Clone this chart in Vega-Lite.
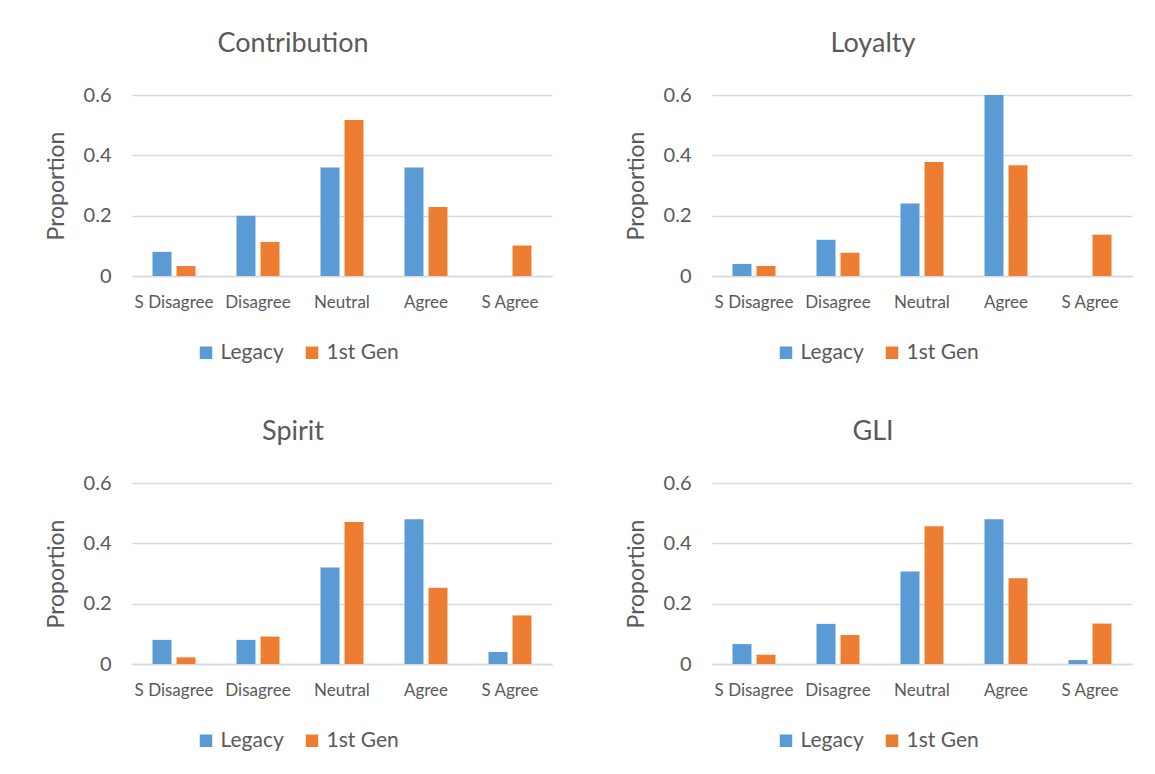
{
  "$schema": "https://vega.github.io/schema/vega-lite/v6.json",
  "background": "white",
  "padding": {"left": 45, "top": 30, "right": 5, "bottom": 5},
  "datasets": {
    "survey": [
      {"panel": "Contribution", "response": "S Disagree", "group": "Legacy", "value": 0.08},
      {"panel": "Contribution", "response": "S Disagree", "group": "1st Gen", "value": 0.033},
      {"panel": "Contribution", "response": "Disagree", "group": "Legacy", "value": 0.2},
      {"panel": "Contribution", "response": "Disagree", "group": "1st Gen", "value": 0.113},
      {"panel": "Contribution", "response": "Neutral", "group": "Legacy", "value": 0.36},
      {"panel": "Contribution", "response": "Neutral", "group": "1st Gen", "value": 0.517},
      {"panel": "Contribution", "response": "Agree", "group": "Legacy", "value": 0.36},
      {"panel": "Contribution", "response": "Agree", "group": "1st Gen", "value": 0.229},
      {"panel": "Contribution", "response": "S Agree", "group": "Legacy", "value": 0},
      {"panel": "Contribution", "response": "S Agree", "group": "1st Gen", "value": 0.101},
      {"panel": "Loyalty", "response": "S Disagree", "group": "Legacy", "value": 0.04},
      {"panel": "Loyalty", "response": "S Disagree", "group": "1st Gen", "value": 0.033},
      {"panel": "Loyalty", "response": "Disagree", "group": "Legacy", "value": 0.12},
      {"panel": "Loyalty", "response": "Disagree", "group": "1st Gen", "value": 0.077},
      {"panel": "Loyalty", "response": "Neutral", "group": "Legacy", "value": 0.24},
      {"panel": "Loyalty", "response": "Neutral", "group": "1st Gen", "value": 0.378},
      {"panel": "Loyalty", "response": "Agree", "group": "Legacy", "value": 0.6},
      {"panel": "Loyalty", "response": "Agree", "group": "1st Gen", "value": 0.367},
      {"panel": "Loyalty", "response": "S Agree", "group": "Legacy", "value": 0},
      {"panel": "Loyalty", "response": "S Agree", "group": "1st Gen", "value": 0.137},
      {"panel": "Spirit", "response": "S Disagree", "group": "Legacy", "value": 0.08},
      {"panel": "Spirit", "response": "S Disagree", "group": "1st Gen", "value": 0.022},
      {"panel": "Spirit", "response": "Disagree", "group": "Legacy", "value": 0.08},
      {"panel": "Spirit", "response": "Disagree", "group": "1st Gen", "value": 0.091},
      {"panel": "Spirit", "response": "Neutral", "group": "Legacy", "value": 0.32},
      {"panel": "Spirit", "response": "Neutral", "group": "1st Gen", "value": 0.471},
      {"panel": "Spirit", "response": "Agree", "group": "Legacy", "value": 0.48},
      {"panel": "Spirit", "response": "Agree", "group": "1st Gen", "value": 0.253},
      {"panel": "Spirit", "response": "S Agree", "group": "Legacy", "value": 0.04},
      {"panel": "Spirit", "response": "S Agree", "group": "1st Gen", "value": 0.161},
      {"panel": "GLI", "response": "S Disagree", "group": "Legacy", "value": 0.066},
      {"panel": "GLI", "response": "S Disagree", "group": "1st Gen", "value": 0.031},
      {"panel": "GLI", "response": "Disagree", "group": "Legacy", "value": 0.133},
      {"panel": "GLI", "response": "Disagree", "group": "1st Gen", "value": 0.096},
      {"panel": "GLI", "response": "Neutral", "group": "Legacy", "value": 0.307},
      {"panel": "GLI", "response": "Neutral", "group": "1st Gen", "value": 0.457},
      {"panel": "GLI", "response": "Agree", "group": "Legacy", "value": 0.48},
      {"panel": "GLI", "response": "Agree", "group": "1st Gen", "value": 0.284},
      {"panel": "GLI", "response": "S Agree", "group": "Legacy", "value": 0.013},
      {"panel": "GLI", "response": "S Agree", "group": "1st Gen", "value": 0.134}
    ]
  },
  "data": {"name": "survey"},
  "columns": 2,
  "spacing": {"row": 207, "column": 160},
  "bounds": "flush",
  "resolve": {"scale": {"color": "independent"}, "legend": {"color": "independent"}},
  "concat": [
    {
      "title": {"text": "Contribution"},
      "width": 420, "height": 181,
      "transform": [{"filter": "datum.panel === 'Contribution'"}],
      "mark": {"type": "bar"},
      "encoding": {
        "x": {"field": "response", "type": "nominal", "sort": ["S Disagree", "Disagree", "Neutral", "Agree", "S Agree"], "scale": {"paddingInner": 0.488, "paddingOuter": 0.244}, "axis": {"title": null}},
        "xOffset": {"field": "group", "type": "nominal", "sort": ["Legacy", "1st Gen"], "scale": {"paddingInner": 0.21, "paddingOuter": 0}},
        "y": {"field": "value", "type": "quantitative", "scale": {"domain": [0, 0.6], "nice": false}, "axis": {"title": "Proportion", "values": [0, 0.2, 0.4, 0.6], "format": "~g"}},
        "color": {"field": "group", "type": "nominal", "scale": {"domain": ["Legacy", "1st Gen"], "range": ["#5B9BD5", "#ED7D31"]}, "legend": {"title": null}}
      }
    },
    {
      "title": {"text": "Loyalty"},
      "width": 420, "height": 181,
      "transform": [{"filter": "datum.panel === 'Loyalty'"}],
      "mark": {"type": "bar"},
      "encoding": {
        "x": {"field": "response", "type": "nominal", "sort": ["S Disagree", "Disagree", "Neutral", "Agree", "S Agree"], "scale": {"paddingInner": 0.488, "paddingOuter": 0.244}, "axis": {"title": null}},
        "xOffset": {"field": "group", "type": "nominal", "sort": ["Legacy", "1st Gen"], "scale": {"paddingInner": 0.21, "paddingOuter": 0}},
        "y": {"field": "value", "type": "quantitative", "scale": {"domain": [0, 0.6], "nice": false}, "axis": {"title": "Proportion", "values": [0, 0.2, 0.4, 0.6], "format": "~g"}},
        "color": {"field": "group", "type": "nominal", "scale": {"domain": ["Legacy", "1st Gen"], "range": ["#5B9BD5", "#ED7D31"]}, "legend": {"title": null}}
      }
    },
    {
      "title": {"text": "Spirit"},
      "width": 420, "height": 181,
      "transform": [{"filter": "datum.panel === 'Spirit'"}],
      "mark": {"type": "bar"},
      "encoding": {
        "x": {"field": "response", "type": "nominal", "sort": ["S Disagree", "Disagree", "Neutral", "Agree", "S Agree"], "scale": {"paddingInner": 0.488, "paddingOuter": 0.244}, "axis": {"title": null}},
        "xOffset": {"field": "group", "type": "nominal", "sort": ["Legacy", "1st Gen"], "scale": {"paddingInner": 0.21, "paddingOuter": 0}},
        "y": {"field": "value", "type": "quantitative", "scale": {"domain": [0, 0.6], "nice": false}, "axis": {"title": "Proportion", "values": [0, 0.2, 0.4, 0.6], "format": "~g"}},
        "color": {"field": "group", "type": "nominal", "scale": {"domain": ["Legacy", "1st Gen"], "range": ["#5B9BD5", "#ED7D31"]}, "legend": {"title": null}}
      }
    },
    {
      "title": {"text": "GLI"},
      "width": 420, "height": 181,
      "transform": [{"filter": "datum.panel === 'GLI'"}],
      "mark": {"type": "bar"},
      "encoding": {
        "x": {"field": "response", "type": "nominal", "sort": ["S Disagree", "Disagree", "Neutral", "Agree", "S Agree"], "scale": {"paddingInner": 0.488, "paddingOuter": 0.244}, "axis": {"title": null}},
        "xOffset": {"field": "group", "type": "nominal", "sort": ["Legacy", "1st Gen"], "scale": {"paddingInner": 0.21, "paddingOuter": 0}},
        "y": {"field": "value", "type": "quantitative", "scale": {"domain": [0, 0.6], "nice": false}, "axis": {"title": "Proportion", "values": [0, 0.2, 0.4, 0.6], "format": "~g"}},
        "color": {"field": "group", "type": "nominal", "scale": {"domain": ["Legacy", "1st Gen"], "range": ["#5B9BD5", "#ED7D31"]}, "legend": {"title": null}}
      }
    }
  ],
  "config": {
    "font": "Lato",
    "view": {"stroke": null},
    "axis": {"labelFont": "Lato", "titleFont": "Lato", "labelColor": "#595959", "titleColor": "#595959", "ticks": false, "titleFontWeight": "normal"},
    "axisX": {"labelFontSize": 17, "labelPadding": 18, "domainColor": "#d9d9d9", "domainWidth": 1.5, "grid": false, "labelAngle": 0},
    "axisY": {"labelFontSize": 20, "labelPadding": 21, "titleFontSize": 23, "titlePadding": 15, "domain": false, "gridColor": "#d9d9d9", "gridWidth": 1.5},
    "legend": {"orient": "none", "legendX": 63.5, "legendY": 247, "direction": "horizontal", "symbolType": "square", "symbolSize": 156, "symbolStrokeWidth": 0, "labelFont": "Lato", "labelFontSize": 21, "labelColor": "#595959", "labelOffset": 4, "columnPadding": 17},
    "title": {"font": "Lato", "fontSize": 27, "color": "#595959", "fontWeight": "normal", "anchor": "middle", "dx": -49, "offset": 27}
  }
}
